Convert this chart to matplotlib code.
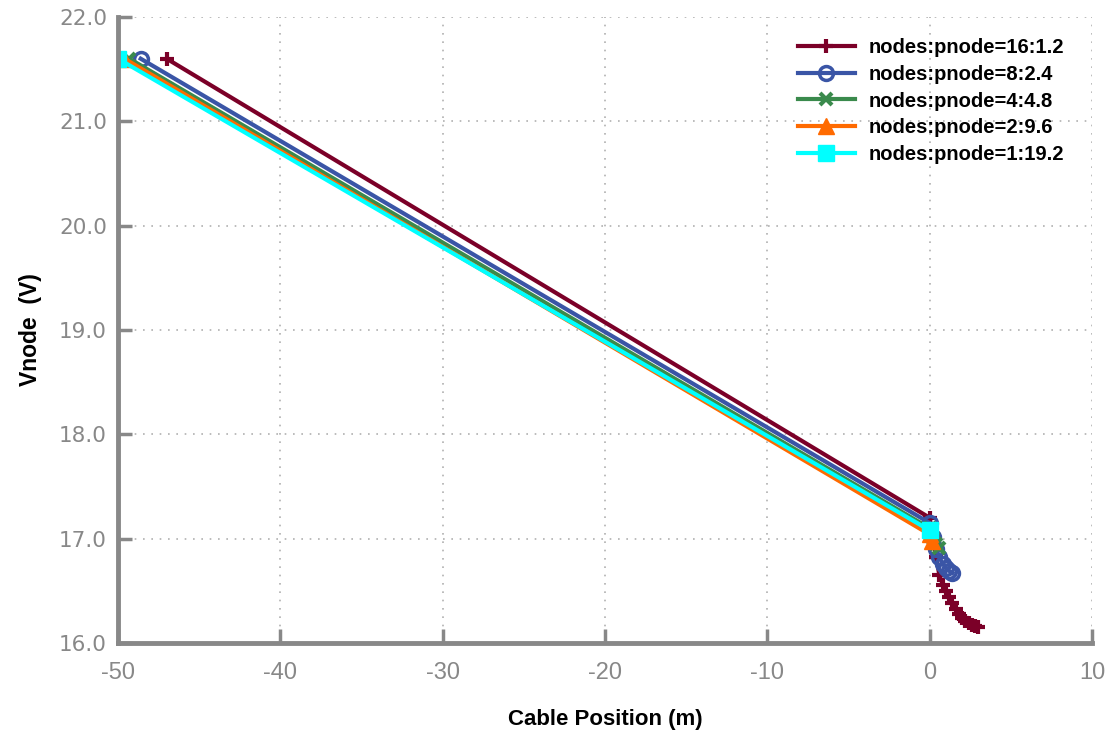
import matplotlib
matplotlib.use("Agg")
import matplotlib.pyplot as plt

plt.rcParams["axes.unicode_minus"] = False
narrow = "Liberation Sans"

# data
x_16 = [-47.0, 0.0, 0.2, 0.4, 0.6, 0.8, 1.0, 1.2, 1.4, 1.6, 1.8, 2.0, 2.2, 2.4, 2.6, 2.8, 3.0]
v_16 = [21.60, 17.20, 17.00, 16.82, 16.65, 16.56, 16.50, 16.44, 16.38, 16.33, 16.28, 16.24, 16.21, 16.19, 16.17, 16.16, 16.15]
x_8 = [-48.6, 0.0, 0.2, 0.4, 0.6, 0.8, 1.0, 1.2, 1.4]
v_8 = [21.60, 17.15, 17.02, 16.90, 16.82, 16.76, 16.72, 16.69, 16.67]
x_4 = [-49.3, 0.0, 0.2, 0.4, 0.6]
v_4 = [21.60, 17.10, 17.01, 16.95, 16.91]
x_2 = [-49.6, 0.0, 0.15]
v_2 = [21.60, 17.04, 16.98]
x_1 = [-50.0, 0.0]
v_1 = [21.60, 17.08]

labels = ["nodes:pnode=16:1.2", "nodes:pnode=8:2.4", "nodes:pnode=4:4.8",
          "nodes:pnode=2:9.6", "nodes:pnode=1:19.2"]
colors = ["#7b0028", "#3a55a6", "#3a8a4c", "#ff6a00", "#00ffff"]

fig = plt.figure(figsize=(11.09, 7.35), dpi=100)
ax = fig.add_axes([0.1064, 0.1252, 0.8783, 0.8517])

ax.plot(x_16, v_16, color=colors[0], lw=3, marker="+", ms=10, mew=3, label=labels[0])
ax.plot(x_8, v_8, color=colors[1], lw=3, marker="o", ms=10, mew=2.5, mfc="none", label=labels[1])
ax.plot(x_4, v_4, color=colors[2], lw=3, marker="x", ms=8, mew=3, label=labels[2])
ax.plot(x_2, v_2, color=colors[3], lw=3, marker="^", ms=11, label=labels[3])
ax.plot(x_1, v_1, color=colors[4], lw=3, marker="s", ms=12, label=labels[4])

ax.set_xlim(-50, 10)
ax.set_ylim(16, 22)
ax.set_xticks(range(-50, 11, 10))
ax.set_yticks([16, 17, 18, 19, 20, 21, 22])
ax.set_yticklabels(["%.1f" % v for v in ax.get_yticks()])
ax.grid(True, color="#b0b0b0", linestyle=(0, (1, 4)), lw=1.2)

for s in ["top", "right"]:
    ax.spines[s].set_visible(False)
for s in ["left", "bottom"]:
    ax.spines[s].set_color("#888888")
    ax.spines[s].set_linewidth(3.5)
ax.tick_params(direction="in", length=10, width=2.5, color="#888888", labelcolor="#888888")
ax.tick_params(axis="y", labelsize=15.5, pad=8)
ax.tick_params(axis="x", labelsize=17, pad=14)
for t in ax.get_xticklabels():
    t.set_fontfamily(narrow)

ax.set_xlabel("Cable Position (m)", fontsize=16, fontweight="bold", family=narrow, labelpad=18)
ax.set_ylabel("Vnode  (V)", fontsize=16.5, fontweight="bold", family=narrow, labelpad=12)

ax.legend(loc="upper right", frameon=False, handlelength=2.8, handletextpad=0.7,
          prop={"family": narrow, "weight": "bold", "size": 14.5}, labelspacing=0.38,
          bbox_to_anchor=(0.99, 0.995))

fig.savefig("out.png", dpi=100)
